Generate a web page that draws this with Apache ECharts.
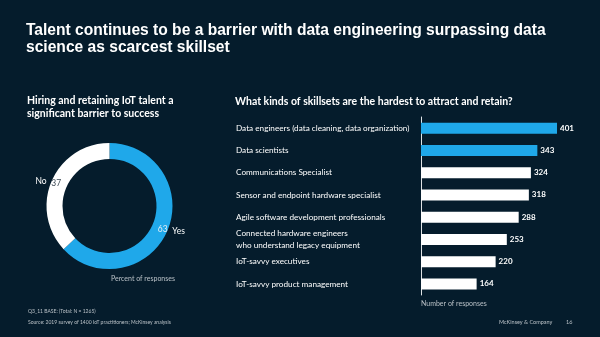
<!DOCTYPE html>
<html><head><meta charset="utf-8">
<script src="https://cdn.jsdelivr.net/npm/echarts@6/dist/echarts.min.js"></script>
<style>html,body{margin:0;padding:0;background:#051c2c}#c{width:600px;height:337px}</style>
</head><body><div id="c"></div>
<script>
const donutNames = ['Yes', 'No'];
const donutValues = [63, 37];
const skillCategories = [
  'Data engineers (data cleaning, data organization)',
  'Data scientists',
  'Communications Specialist',
  'Sensor and endpoint hardware specialist',
  'Agile software development professionals',
  'Connected hardware engineers\nwho understand legacy equipment',
  'IoT-savvy executives',
  'IoT-savvy product management'
];
const skillValues = [401, 343, 324, 318, 288, 253, 220, 164];
const highlightCount = 2;

const BG = '#051c2c', BLUE = '#1fa8ea', WHITE = '#ffffff', GREY = '#b9c0c6';
const body = 'Lato';
const t = (text, left, top, size, extra) => Object.assign({
  text, left, top, padding: 0,
  textStyle: Object.assign({color: GREY, fontFamily: body, fontWeight: 'normal', fontSize: size}, extra || {})
});
const chart = echarts.init(document.getElementById('c'), null, {renderer: 'canvas'});
chart.setOption({
  backgroundColor: BG,
  animation: false,
  title: [
    t('Talent continues to be a barrier with data engineering surpassing data\nscience as scarcest skillset', 26, 22, 15.6,
      {color: WHITE, fontFamily: 'Liberation Sans', fontWeight: 'bold', lineHeight: 17}),
    t('Hiring and retaining IoT talent a\nsignificant barrier to success', 27, 94, 10.5,
      {color: WHITE, fontWeight: 'bold', lineHeight: 13}),
    t('What kinds of skillsets are the hardest to attract and retain?', 235, 96, 10.5,
      {color: WHITE, fontWeight: 'bold'}),
    Object.assign(t('Percent of responses', 143, 275, 7), {textAlign: 'center'}),
    t('Number of responses', 421, 300, 7),
    t('Q3_11 BASE: (Total: N = 1265)', 28, 309, 5),
    t('Source: 2019 survey of 1400 IoT practitioners; McKinsey analysis', 28, 320, 5),
    t('McKinsey & Company', 499, 319, 5.5),
    t('16', 566, 319, 5.5)
  ],
  grid: {left: 421, top: 117, width: 169.6, height: 178, containLabel: false},
  xAxis: {type: 'value', min: 0, max: 500, show: false},
  yAxis: {
    type: 'category', inverse: true, data: skillCategories,
    axisLine: {show: true, lineStyle: {color: '#dfe3e6', width: 1}},
    axisTick: {show: false},
    axisLabel: {color: WHITE, fontFamily: body, fontSize: 8.2, align: 'left', margin: 185, lineHeight: 12}
  },
  series: [
    {
      type: 'bar', data: skillValues.map((v, i) => ({value: v, itemStyle: {color: i < highlightCount ? BLUE : WHITE}})),
      barWidth: 11,
      label: {show: true, position: 'right', distance: 3, color: WHITE, fontFamily: body, fontWeight: 'bold', fontSize: 8}
    },
    {
      type: 'pie', center: [109.5, 206], radius: [47, 63], startAngle: 90, clockwise: true,
      silent: true,
      data: donutNames.map((n, i) => ({name: n, value: donutValues[i],
        itemStyle: {color: i === 0 ? BLUE : WHITE},
        label: {color: i === 0 ? '#e6eef5' : '#3e4b56'}})),
      label: {show: true, position: 'inside', formatter: '{c}', fontFamily: body, fontSize: 8.5},
      labelLine: {show: false}
    },
    {
      type: 'pie', center: [109.5, 206], radius: [47, 63], startAngle: 90, clockwise: true,
      silent: true,
      data: donutNames.map((n, i) => ({name: n, value: donutValues[i], itemStyle: {color: 'rgba(0,0,0,0)'}})),
      label: {show: true, position: 'outside', formatter: '{b}', color: WHITE, fontFamily: body, fontSize: 8.5},
      labelLine: {show: false, length: 0, length2: 0}
    }
  ]
});
</script></body></html>
